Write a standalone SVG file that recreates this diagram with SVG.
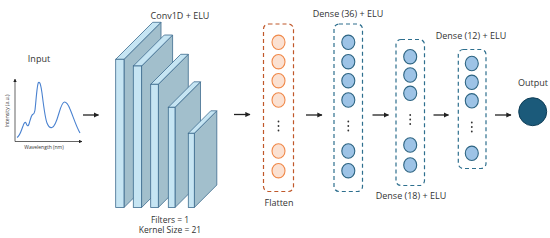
<svg xmlns="http://www.w3.org/2000/svg" width="550" height="238" viewBox="0 0 550 238">
<style>
text{font-family:"Open Sans","Noto Sans","DejaVu Sans",sans-serif;fill:#333;}
.lbl{font-size:9px;text-anchor:middle;}
.small{font-size:8.5px;text-anchor:middle;}
.tiny{font-size:5px;text-anchor:middle;}
.front{fill:#c6e5f3;stroke:#3d6b8e;stroke-width:0.8;}
.side{fill:#a2bfcc;stroke:#3d6b8e;stroke-width:0.8;stroke-linejoin:round;}
.conn{stroke:#222;stroke-width:1.3;fill:none;marker-end:url(#ah);}
.boxO{fill:none;stroke:#c0582a;stroke-width:1.2;stroke-dasharray:4 3;}
.boxB{fill:none;stroke:#2e6f8e;stroke-width:1.2;stroke-dasharray:4 3;}
.nO{fill:#fbe1d2;stroke:#f0894a;stroke-width:1.1;}
.nB{fill:#9dc3e6;stroke:#2d6482;stroke-width:1.1;}
.dot{fill:#333;}
</style>
<defs>
<marker id="ah" viewBox="0 0 10 10" refX="9" refY="5" markerWidth="4" markerHeight="4" orient="auto" markerUnits="strokeWidth">
<path d="M0,0 L10,5 L0,10 z" fill="#222"/>
</marker>
<marker id="axh" viewBox="0 0 10 10" refX="9" refY="5" markerWidth="5" markerHeight="5" orient="auto" markerUnits="strokeWidth">
<path d="M0,0 L10,5 L0,10 z" fill="#222"/>
</marker>
</defs>

<g id="input">
<text class="lbl" x="39" y="62">Input</text>
<line x1="15" y1="141.5" x2="15" y2="79" stroke="#222" stroke-width="0.7" marker-end="url(#axh)"/>
<line x1="15" y1="141.5" x2="82" y2="141.5" stroke="#222" stroke-width="0.7" marker-end="url(#axh)"/>
<path d="M17,137.5 C20,136 21,131 23,126 C24,123 25,121.5 26,123 C27,126 28,127 29,124 C30,121 31,116 32.5,114.5 C33.5,114 34,115 35,110 C36,102 37,84 38.5,82.5 C40,81 41,86 42,93 C43.5,105 45,118 47,123 C48.5,127 50,128 52,127.5 C55,127 57,120 59,113 C61,106 62.5,102 64.5,102 C66.5,102 68,104 70,109 C73,116 76,126 80,133" fill="none" stroke="#4a82d0" stroke-width="1.1"/>
<text class="tiny" transform="translate(9,111) rotate(-90)">Intensity (a.u.)</text>
<text class="tiny" x="44" y="149">Wavelength (nm)</text>
</g>

<g id="conv1d">
<text class="lbl" x="180" y="19">Conv1D + ELU</text>
<g id="block1">
<polygon class="side" points="124,59.3 161,22.3 161,170.5 124,207.5"/>
<polygon class="front" points="115.7,59.3 152.7,22.3 161,22.3 124,59.3"/>
<rect class="front" x="115.7" y="59.3" width="8.3" height="148.2"/>
</g>
<g id="block2">
<polygon class="side" points="141.6,66 172.6,35 172.6,176.5 141.6,207.5"/>
<polygon class="front" points="133.3,66 164.3,35 172.6,35 141.6,66"/>
<rect class="front" x="133.3" y="66" width="8.3" height="141.5"/>
</g>
<g id="block3">
<polygon class="side" points="158.3,84.3 188.3,54.3 188.3,177.5 158.3,207.5"/>
<polygon class="front" points="150.7,84.3 180.7,54.3 188.3,54.3 158.3,84.3"/>
<rect class="front" x="150.7" y="84.3" width="7.6" height="123.2"/>
</g>
<g id="block4">
<polygon class="side" points="175,107.3 200.5,81.8 200.5,182 175,207.5"/>
<polygon class="front" points="168.3,107.3 193.8,81.8 200.5,81.8 175,107.3"/>
<rect class="front" x="168.3" y="107.3" width="6.7" height="100.2"/>
</g>
<g id="block5">
<polygon class="side" points="194.3,133.3 216.8,110.8 216.8,185 194.3,207.5"/>
<polygon class="front" points="188.3,133.3 210.8,110.8 216.8,110.8 194.3,133.3"/>
<rect class="front" x="188.3" y="133.3" width="6" height="74.2"/>
</g>
<text class="small" x="170" y="223">Filters = 1</text>
<text class="small" x="170" y="232.5">Kernel Size = 21</text>
</g>

<g id="flatten">
<rect class="boxO" x="263.5" y="24" width="30" height="167.5" rx="5"/>
<ellipse class="nO" cx="278.5" cy="42.3" rx="6.5" ry="7.2"/>
<ellipse class="nO" cx="278.5" cy="61.7" rx="6.5" ry="7.2"/>
<ellipse class="nO" cx="278.5" cy="80.7" rx="6.5" ry="7.2"/>
<ellipse class="nO" cx="278.5" cy="100" rx="6.5" ry="7.2"/>
<circle class="dot" cx="278.5" cy="121.5" r="0.9"/>
<circle class="dot" cx="278.5" cy="126" r="0.9"/>
<circle class="dot" cx="278.5" cy="130.5" r="0.9"/>
<ellipse class="nO" cx="278.5" cy="151" rx="6.5" ry="7.2"/>
<ellipse class="nO" cx="278.5" cy="170.7" rx="6.5" ry="7.2"/>
<text class="lbl" x="279" y="206">Flatten</text>
</g>

<g id="dense36">
<text class="lbl" x="348" y="17">Dense (36) + ELU</text>
<rect class="boxB" x="334" y="24" width="28.5" height="167.5" rx="5"/>
<ellipse class="nB" cx="348.3" cy="42.3" rx="6.5" ry="7.2"/>
<ellipse class="nB" cx="348.3" cy="61.7" rx="6.5" ry="7.2"/>
<ellipse class="nB" cx="348.3" cy="80.7" rx="6.5" ry="7.2"/>
<ellipse class="nB" cx="348.3" cy="100" rx="6.5" ry="7.2"/>
<circle class="dot" cx="348.3" cy="121.5" r="0.9"/>
<circle class="dot" cx="348.3" cy="126" r="0.9"/>
<circle class="dot" cx="348.3" cy="130.5" r="0.9"/>
<ellipse class="nB" cx="348.3" cy="151" rx="6.5" ry="7.2"/>
<ellipse class="nB" cx="348.3" cy="170.7" rx="6.5" ry="7.2"/>
</g>

<g id="dense18">
<rect class="boxB" x="396" y="39.5" width="28.5" height="146" rx="5"/>
<ellipse class="nB" cx="410.2" cy="56.7" rx="6.5" ry="7.2"/>
<ellipse class="nB" cx="410.2" cy="75" rx="6.5" ry="7.2"/>
<ellipse class="nB" cx="410.2" cy="93.3" rx="6.5" ry="7.2"/>
<circle class="dot" cx="410.2" cy="115" r="0.9"/>
<circle class="dot" cx="410.2" cy="119.5" r="0.9"/>
<circle class="dot" cx="410.2" cy="124" r="0.9"/>
<ellipse class="nB" cx="410.2" cy="145" rx="6.5" ry="7.2"/>
<ellipse class="nB" cx="410.2" cy="165" rx="6.5" ry="7.2"/>
<text class="lbl" x="411" y="199">Dense (18) + ELU</text>
</g>

<g id="dense12">
<text class="lbl" x="471" y="39">Dense (12) + ELU</text>
<rect class="boxB" x="458.3" y="49.5" width="27.7" height="119" rx="5"/>
<ellipse class="nB" cx="471.8" cy="63.5" rx="6.5" ry="7.2"/>
<ellipse class="nB" cx="471.8" cy="82.3" rx="6.5" ry="7.2"/>
<ellipse class="nB" cx="471.8" cy="100.8" rx="6.5" ry="7.2"/>
<circle class="dot" cx="471.8" cy="122.5" r="0.9"/>
<circle class="dot" cx="471.8" cy="127" r="0.9"/>
<circle class="dot" cx="471.8" cy="131.5" r="0.9"/>
<ellipse class="nB" cx="471.8" cy="153.3" rx="6.5" ry="7.2"/>
</g>

<g id="output">
<text class="lbl" x="533" y="85.5">Output</text>
<circle cx="532.7" cy="111.7" r="14" fill="#1b5a7a" stroke="#0f3e57" stroke-width="1"/>
</g>

<g id="connectors">
<line class="conn" x1="83" y1="115" x2="98.5" y2="115"/>
<line class="conn" x1="234" y1="114.5" x2="250" y2="114.5"/>
<line class="conn" x1="306" y1="115" x2="322" y2="115"/>
<line class="conn" x1="372.5" y1="115" x2="388.5" y2="115"/>
<line class="conn" x1="433.5" y1="115" x2="448.5" y2="115"/>
<line class="conn" x1="495" y1="115" x2="511" y2="115"/>
</g>
</svg>
